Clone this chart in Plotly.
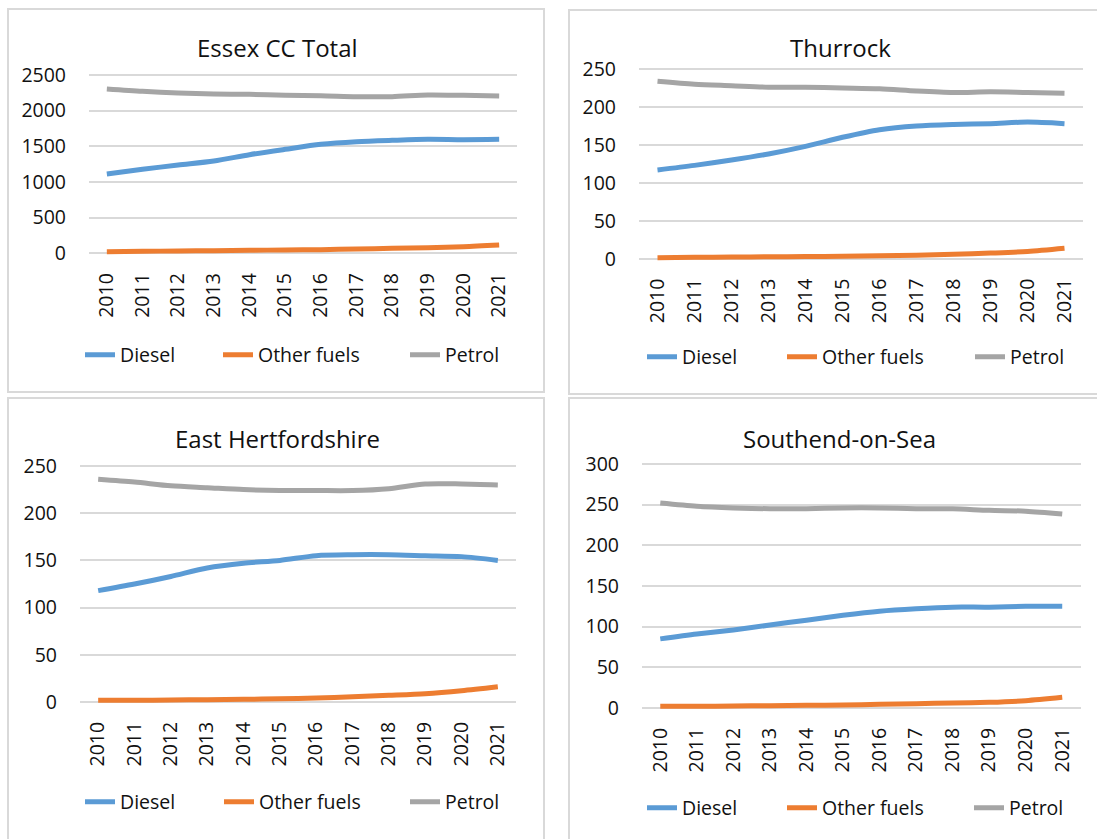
import plotly.graph_objects as go

W, H = 1097, 839

years = [str(y) for y in range(2010, 2022)]
series_names = ["Diesel", "Other fuels", "Petrol"]
series_colors = ["#5B9BD5", "#ED7D31", "#A5A5A5"]

essex_diesel = [1112, 1178, 1238, 1294, 1383, 1458, 1528, 1565, 1584, 1598, 1593, 1598]
essex_other = [23, 28, 33, 37, 42, 47, 51, 61, 70, 79, 93, 117]
essex_petrol = [2304, 2271, 2248, 2234, 2229, 2215, 2210, 2196, 2196, 2220, 2215, 2206]

thurrock_diesel = [117, 123, 130, 138, 148, 160, 170, 175, 177, 178, 180, 178]
thurrock_other = [1.3, 1.8, 2.2, 2.5, 2.8, 3.2, 3.8, 4.5, 5.7, 7.4, 9.6, 13.8]
thurrock_petrol = [234, 230, 228, 226, 226, 225, 224, 221, 219, 220, 219, 218]

eherts_diesel = [118, 125, 133, 142, 147, 150, 155, 156, 156, 155, 154, 150]
eherts_other = [1.8, 1.8, 2.1, 2.5, 2.8, 3.5, 4.2, 5.6, 7.1, 8.8, 12, 16.2]
eherts_petrol = [236, 233, 229, 227, 225, 224, 224, 224, 226, 231, 231, 230]

southend_diesel = [85, 91, 96, 102, 108, 114, 119, 122, 124, 124, 125, 125]
southend_other = [2, 2, 2.5, 2.9, 3.3, 3.7, 4.5, 5.3, 6.1, 7, 9, 13.1]
southend_petrol = [252, 248, 246, 245, 245, 246, 246, 245, 245, 243, 242, 238.5]

titles = ["Essex CC Total", "Thurrock", "East Hertfordshire", "Southend-on-Sea"]
y_max = [2500, 250, 250, 300]
y_step = [500, 50, 50, 50]

# panel geometry in pixels
# plot area: (x_left, x_right, y_zero_px, y_top_px)
plot_px = [
    (89, 517, 253.3, 75),
    (639, 1083, 258.7, 69),
    (80, 516, 702, 466),
    (642, 1080.5, 708, 464),
]
frame_px = [
    (8, 9, 544, 392),
    (569, 10, 1110, 394),
    (8, 398, 544, 850),
    (569, 398, 1110, 850),
]
title_px = [(277, 48), (840, 48), (277, 438), (839, 438)]
# legend text start x for each series, and legend row y
legend_px = [
    ([120, 258, 445], 355),
    ([682, 822, 1010], 357),
    ([120, 259, 445], 802),
    ([682, 822, 1009], 808),
]

data = [
    [essex_diesel, essex_other, essex_petrol],
    [thurrock_diesel, thurrock_other, thurrock_petrol],
    [eherts_diesel, eherts_other, eherts_petrol],
    [southend_diesel, southend_other, southend_petrol],
]

FONT = "Open Sans"
TXT = "#111111"
GRID = "#D9D9D9"

fig = go.Figure()
layout = dict(
    template="none",
    width=W, height=H, autosize=False,
    margin=dict(l=0, r=0, t=0, b=0, pad=0, autoexpand=False),
    paper_bgcolor="white", plot_bgcolor="white",
    font=dict(family=FONT, size=19.5, color=TXT),
    shapes=[], annotations=[],
)


def px_x(v):
    return v / W


def px_y(v):
    return 1 - v / H


legend_idx = 0
for i in range(4):
    n = i + 1
    xl, xr, y0, yt = plot_px[i]
    ppu = (y0 - yt) / y_max[i]
    pad = 5 / ppu
    y_bottom = y0 + pad * ppu
    y_top = yt - pad * ppu

    xa = "xaxis" if n == 1 else f"xaxis{n}"
    ya = "yaxis" if n == 1 else f"yaxis{n}"
    xref = "x" if n == 1 else f"x{n}"
    yref = "y" if n == 1 else f"y{n}"

    layout[xa] = dict(
        domain=[px_x(xl), px_x(xr)], anchor=yref, type="category",
        range=[-0.5, 11.5], tickangle=-90, showgrid=False, showline=False,
        zeroline=False, ticks="", ticklabelstandoff=10, automargin=False,
        tickfont=dict(family=FONT, size=19.5, color=TXT),
    )
    layout[ya] = dict(
        domain=[px_y(y_bottom), px_y(y_top)], anchor=xref,
        range=[-pad, y_max[i] + pad], dtick=y_step[i], tick0=0,
        showgrid=True, gridcolor=GRID, gridwidth=1.5, showline=False,
        zeroline=False, ticks="", ticklabelstandoff=22, automargin=False,
        tickfont=dict(family=FONT, size=19.5, color=TXT),
    )

    x0, y0f, x1, y1f = frame_px[i]
    layout["shapes"].append(dict(
        type="rect", xref="paper", yref="paper",
        x0=px_x(x0), x1=px_x(x1), y0=px_y(y1f), y1=px_y(y0f),
        line=dict(color=GRID, width=2), layer="below",
    ))

    tx, ty = title_px[i]
    layout["annotations"].append(dict(
        text=titles[i], x=px_x(tx), y=px_y(ty), xref="paper", yref="paper",
        xanchor="center", yanchor="middle", showarrow=False,
        font=dict(family=FONT, size=24, color=TXT),
    ))

    text_starts, ly = legend_px[i]
    for k in range(3):
        legend_idx += 1
        lname = "legend" if legend_idx == 1 else f"legend{legend_idx}"
        layout[lname] = dict(
            x=px_x(text_starts[k] - 40), y=px_y(ly),
            xanchor="left", yanchor="middle", orientation="h",
            bgcolor="rgba(0,0,0,0)", borderwidth=0,
            font=dict(family=FONT, size=19.5, color=TXT),
        )
        fig.add_trace(go.Scatter(
            x=years, y=data[i][k], name=series_names[k],
            mode="lines", line=dict(color=series_colors[k], width=5,
                                    shape="spline", smoothing=0.8),
            xaxis=xref, yaxis=yref, legend=lname, showlegend=True,
            hoverinfo="x+y+name",
        ))

fig.update_layout(**layout)
fig.write_html("out.html")
